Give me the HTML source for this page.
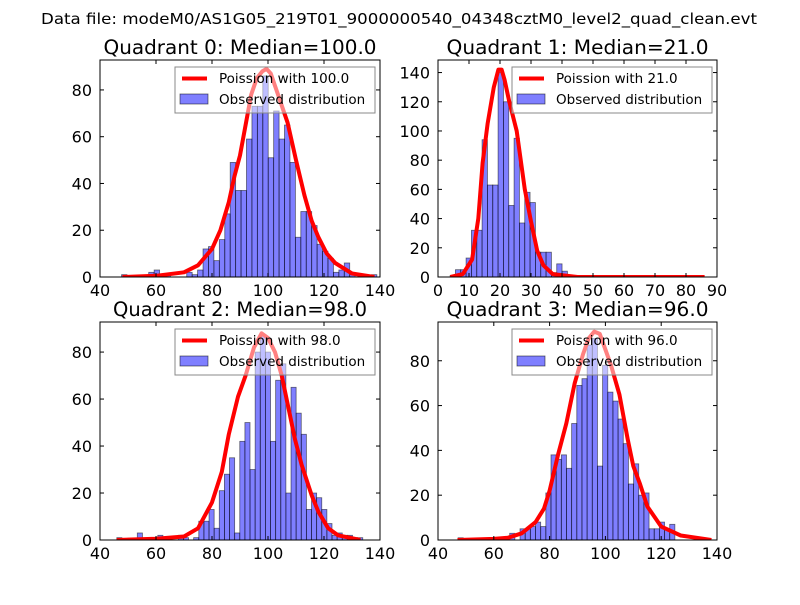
<!DOCTYPE html>
<html><head><meta charset="utf-8"><style>
html,body{margin:0;padding:0;background:#fff;}
svg text{font-family:"DejaVu Sans","Liberation Sans",sans-serif;fill:#000;}
</style></head><body>
<svg id="fig" width="800" height="600" viewBox="0 0 800 600" xmlns="http://www.w3.org/2000/svg">
<rect width="800" height="600" fill="#fff"/>
<text x="399" y="24" font-size="15.5" text-anchor="middle" textLength="716" lengthAdjust="spacingAndGlyphs">Data file: modeM0/AS1G05_219T01_9000000540_04348cztM0_level2_quad_clean.evt</text>
</svg>
<script>
// ---- Quadrant 0 ----
const q0Start = 47.7, q0Width = 1.94;
const q0Counts = [1,0,0,0,0,2,3,0,1,0,0,0,2,1,3,12,13,7,16,27,49,37,37,59,73,73,86,51,71,59,65,49,17,28,28,22,14,11,8,2,3,6,1,0,1,0,1];
const q0CurveX = [48,60,70,75,80,83,86,88,90,92,94,96,98,99.5,101,103,105,107,110,113,115.6,118,121,124,130,138];
const q0CurveY = [0,0.5,2,5,12,20,32,43,52,65,78,85,88,89,87,80,73,66,50,35,24,17,10,6,1.5,0];
// ---- Quadrant 1 ----
const q1Start = 3.9, q1Width = 1.72;
const q1Counts = [1,5,5,13,32,32,94,63,63,140,120,49,95,37,58,51,17,17,17,3,9,4,1,0,0,0,0,0,0,0,0,1];
const q1CurveX = [4,8,11,13,14.4,16,18,19.5,20.5,21.5,23,25.4,28,30,32,34,37,45,86];
const q1CurveY = [0,2,12,40,78,105,130,142,142,135,120,100,60,38,18,8,2,0,0];
// ---- Quadrant 2 ----
const q2Start = 46, q2Width = 1.83;
const q2Counts = [1,0,0,0,3,0,0,0,2,0,0,0,2,1,0,1,8,8,13,5,21,28,35,3,42,50,30,80,87,80,42,68,75,20,65,54,45,13,20,18,13,7,2,3,2,2,1,1];
const q2CurveX = [46,60,70,75,80,83.5,86,89.3,92,95,97.7,100,102.5,104.9,107,109.6,112,115.6,118,121.5,125,133];
const q2CurveY = [0,0.5,1.5,5,16,29,45,61,70,82,88,86,80,70,58,43,32,19,12,5,2,0];
// ---- Quadrant 3 ----
const q3Start = 47.2, q3Width = 1.85;
const q3Counts = [1,0,0,0,0,0,1,0,0,0,3,0,5,5,6,8,6,21,38,36,38,32,52,69,72,87,90,33,78,66,62,54,43,25,34,20,21,5,5,8,5,7];
const q3CurveX = [47,60,65,70,75,78,80,83,86,89,92,94,96,98,100,102,105,108,110,112.4,115,120,127,138];
const q3CurveY = [0,0.5,1,3,8,14,22,38,52,70,83,90,93,92,85,78,65,45,33,25,15,6,2,0];

const titles = ["Quadrant 0: Median=100.0","Quadrant 1: Median=21.0","Quadrant 2: Median=98.0","Quadrant 3: Median=96.0"];
const titleLens = [273,262,254,262];
const legendLabels = ["Poission with 100.0","Poission with 21.0","Poission with 98.0","Poission with 96.0"];
const xTicks0 = [40,60,80,100,120,140];
const xTicks1 = [0,10,20,30,40,50,60,70,80,90];
const yTicks0 = [0,20,40,60,80];
const yTicks1 = [0,20,40,60,80,100,120,140];

const NS = "http://www.w3.org/2000/svg";
const svg = document.getElementById('fig');
function mk(tag, attrs, parent){
  const e = document.createElementNS(NS, tag);
  for (const k in attrs) e.setAttribute(k, attrs[k]);
  (parent||svg).appendChild(e);
  return e;
}

const panels = [
  {box:[100,60,380,277], xr:[40,140], yr:[0,92.8], xt:xTicks0, yt:yTicks0, start:q0Start, w:q0Width, counts:q0Counts, cx:q0CurveX, cy:q0CurveY},
  {box:[438,60,717,277], xr:[0,90], yr:[0,148.6], xt:xTicks1, yt:yTicks1, start:q1Start, w:q1Width, counts:q1Counts, cx:q1CurveX, cy:q1CurveY},
  {box:[100,322,380,540], xr:[40,140], yr:[0,92.8], xt:xTicks0, yt:yTicks0, start:q2Start, w:q2Width, counts:q2Counts, cx:q2CurveX, cy:q2CurveY},
  {box:[438,322,717,540], xr:[40,140], yr:[0,97.3], xt:xTicks0, yt:yTicks0, start:q3Start, w:q3Width, counts:q3Counts, cx:q3CurveX, cy:q3CurveY}
];

panels.forEach((p, i) => {
  const [L,T,R,B] = p.box;
  const xs = v => L + (v - p.xr[0]) / (p.xr[1] - p.xr[0]) * (R - L);
  const ys = v => B - (v - p.yr[0]) / (p.yr[1] - p.yr[0]) * (B - T);
  const g = mk('g', {});
  
  
  const clipId = 'clip' + i;
  const cp = mk('clipPath', {id: clipId}, g);
  mk('rect', {x:L, y:T, width:R-L, height:B-T}, cp);
  const plot = mk('g', {'clip-path':'url(#'+clipId+')'}, g);
  p.counts.forEach((c, k) => {
    if (c <= 0) return;
    const x0 = xs(p.start + k * p.w), x1 = xs(p.start + (k + 1) * p.w);
    const r = mk('rect', {x:x0, y:ys(c), width:x1-x0, height:ys(0)-ys(c), fill:'rgba(0,0,255,0.5)', stroke:'rgba(0,0,0,0.55)', 'stroke-width':0.8}, plot);
    
    
  });
  const pts = p.cx.map((x, k) => xs(x).toFixed(1) + ',' + ys(p.cy[k]).toFixed(1)).join(' ');
  const line = mk('polyline', {points:pts, fill:'none', stroke:'#ff0000', 'stroke-width':4, 'stroke-linejoin':'round'}, plot);
  
  
  const frame = mk('rect', {x:L, y:T, width:R-L, height:B-T, fill:'none', stroke:'#000', 'stroke-width':1}, g);
  
  
  p.xt.forEach(v => {
    const x = xs(v);
    mk('line', {x1:x, y1:B, x2:x, y2:B-4, stroke:'#000'}, g);
    mk('line', {x1:x, y1:T, x2:x, y2:T+4, stroke:'#000'}, g);
    const t = mk('text', {x:x, y:B+19, 'font-size':16, 'text-anchor':'middle'}, g);
    t.textContent = v;
    
    
  });
  p.yt.forEach(v => {
    const y = ys(v);
    mk('line', {x1:L, y1:y, x2:L+4, y2:y, stroke:'#000'}, g);
    mk('line', {x1:R, y1:y, x2:R-4, y2:y, stroke:'#000'}, g);
    const t = mk('text', {x:L-8, y:y+6, 'font-size':16, 'text-anchor':'end'}, g);
    t.textContent = v;
    
    
  });
  const tt = mk('text', {x:(L+R)/2, y:T-6, 'font-size':19.5, 'text-anchor':'middle', textLength:titleLens[i], lengthAdjust:'spacingAndGlyphs'}, g);
  tt.textContent = titles[i];
  
  
  const lg = mk('g', {}, g);
  
  
  const lx = R - 205, ly = T + 7;
  mk('rect', {x:lx, y:ly, width:200, height:46, fill:'rgba(255,255,255,0.5)', stroke:'#888', 'stroke-width':1}, lg);
  mk('line', {x1:lx+7, y1:ly+11.5, x2:lx+32, y2:ly+11.5, stroke:'#ff0000', 'stroke-width':4}, lg);
  const t1 = mk('text', {x:lx+44, y:ly+16, 'font-size':13.5}, lg);
  t1.textContent = legendLabels[i];
  
  
  mk('rect', {x:lx+5, y:ly+27, width:28, height:10, fill:'rgba(0,0,255,0.5)', stroke:'rgba(0,0,0,0.6)', 'stroke-width':0.8}, lg);
  const t2 = mk('text', {x:lx+44, y:ly+37, 'font-size':13.5}, lg);
  t2.textContent = 'Observed distribution';
  
  
});
</script>
</body></html>
